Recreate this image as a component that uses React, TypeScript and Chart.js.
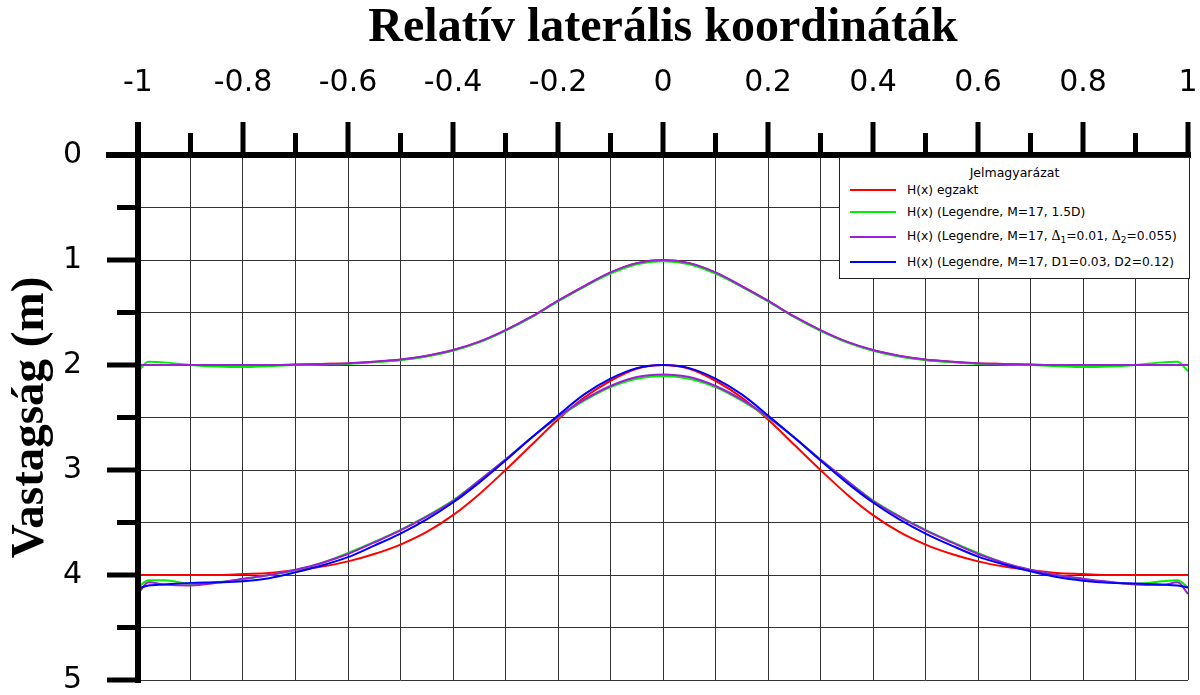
import React, { useEffect, useRef } from 'react';
import { Chart, registerables } from 'chart.js';

Chart.register(...registerables);

// Relative lateral coordinate (x) of each sample
const XS = [
  -1, -0.98, -0.95, -0.9, -0.85, -0.8, -0.75, -0.7, -0.65, -0.6, -0.55, -0.5, -0.45, -0.4, -0.35, -0.3, -0.25, -0.2, -0.15, -0.1, -0.05,
  0,
  0.05, 0.1, 0.15, 0.2, 0.25, 0.3, 0.35, 0.4, 0.45, 0.5, 0.55, 0.6, 0.65, 0.7, 0.75, 0.8, 0.85, 0.9, 0.95, 0.98, 1,
];

// Upper interface (m)
const RED_UPPER = [
  2.0, 2.0, 2.0, 2.0, 2.0, 2.0, 2.0, 1.995, 1.99, 1.985, 1.97, 1.95, 1.915, 1.86, 1.78, 1.67, 1.54, 1.39, 1.25, 1.12, 1.03,
  1.0,
  1.03, 1.12, 1.25, 1.39, 1.54, 1.67, 1.78, 1.86, 1.915, 1.95, 1.97, 1.985, 1.99, 1.995, 2.0, 2.0, 2.0, 2.0, 2.0, 2.0, 2.0,
];
const GREEN_UPPER = [
  2.06, 1.97, 1.975, 2.0, 2.015, 2.02, 2.01, 2.0, 1.995, 1.99, 1.975, 1.955, 1.92, 1.865, 1.785, 1.675, 1.545, 1.395, 1.255, 1.13, 1.04,
  1.012,
  1.04, 1.13, 1.255, 1.395, 1.545, 1.675, 1.785, 1.865, 1.92, 1.955, 1.975, 1.99, 1.995, 2.0, 2.01, 2.02, 2.015, 2.0, 1.975, 1.97, 2.06,
];
const PURPLE_UPPER = [
  2.0, 2.0, 2.0, 2.0, 2.0, 2.0, 2.0, 1.997, 1.99, 1.983, 1.968, 1.948, 1.912, 1.858, 1.778, 1.668, 1.538, 1.388, 1.248, 1.118, 1.03,
  1.0,
  1.03, 1.118, 1.248, 1.388, 1.538, 1.668, 1.778, 1.858, 1.912, 1.948, 1.968, 1.983, 1.99, 1.997, 2.0, 2.0, 2.0, 2.0, 2.0, 2.0, 2.0,
];

// Lower interface (m)
const RED_LOWER = [
  4.0, 4.0, 4.0, 4.0, 4.0, 3.99, 3.98, 3.955, 3.92, 3.87, 3.8, 3.71, 3.59, 3.43, 3.23, 3.0, 2.76, 2.52, 2.31, 2.15, 2.035,
  2.0,
  2.035, 2.15, 2.31, 2.52, 2.76, 3.0, 3.23, 3.43, 3.59, 3.71, 3.8, 3.87, 3.92, 3.955, 3.98, 3.99, 4.0, 4.0, 4.0, 4.0, 4.0,
];
const GREEN_LOWER = [
  4.12, 4.05, 4.05, 4.085, 4.07, 4.04, 4.0, 3.955, 3.885, 3.79, 3.685, 3.57, 3.44, 3.29, 3.1, 2.9, 2.69, 2.5, 2.34, 2.21, 2.13,
  2.105,
  2.13, 2.21, 2.34, 2.5, 2.69, 2.9, 3.1, 3.29, 3.44, 3.57, 3.685, 3.79, 3.885, 3.955, 4.0, 4.04, 4.07, 4.085, 4.06, 4.05, 4.12,
];
const PURPLE_LOWER = [
  4.18, 4.07, 4.09, 4.1, 4.075, 4.035, 4.0, 3.95, 3.885, 3.8, 3.69, 3.575, 3.445, 3.295, 3.1, 2.9, 2.69, 2.495, 2.33, 2.2, 2.115,
  2.09,
  2.115, 2.2, 2.33, 2.495, 2.69, 2.9, 3.1, 3.295, 3.445, 3.575, 3.69, 3.8, 3.885, 3.95, 4.0, 4.035, 4.065, 4.09, 4.095, 4.07, 4.18,
];
const BLUE_LOWER = [
  4.13, 4.1, 4.09, 4.075, 4.07, 4.06, 4.03, 3.975, 3.91, 3.83, 3.72, 3.605, 3.47, 3.31, 3.12, 2.91, 2.69, 2.48, 2.28, 2.13, 2.03,
  2.0,
  2.03, 2.13, 2.28, 2.48, 2.69, 2.91, 3.12, 3.31, 3.47, 3.605, 3.72, 3.825, 3.9, 3.965, 4.02, 4.055, 4.075, 4.08, 4.09, 4.1, 4.12,
];

const X_MIN = -1;
const X_MAX = 1;
const Y_MIN = 0;
const Y_MAX = 5;

const X_TITLE = 'Relatív laterális koordináták';
const Y_TITLE = 'Vastagság (m)';
const LEGEND_TITLE = 'Jelmagyarázat';

const RED = '#ff0000';
const GREEN = '#00ee00';
const PURPLE = '#9b1fd8';
const BLUE = '#0000ff';

const SANS = '"DejaVu Sans", "Liberation Sans", Arial, sans-serif';
const SERIF = '"Liberation Serif", "Times New Roman", Times, serif';

function series(values: number[]) {
  return XS.map((x, i) => ({ x, y: values[i] }));
}

const axesPlugin = {
  id: 'thickAxes',
  afterDraw(chart: any) {
    const { ctx, scales } = chart;
    const xs = scales.x;
    const ys = scales.y;
    const x0 = xs.getPixelForValue(X_MIN);
    const x1 = xs.getPixelForValue(X_MAX);
    const y0 = ys.getPixelForValue(Y_MIN);
    const y1 = ys.getPixelForValue(Y_MAX);
    ctx.save();
    ctx.fillStyle = '#000';
    // top axis line
    ctx.fillRect(x0 - 32, y0 - 3, x1 + 3 - (x0 - 32), 6);
    // left axis line
    ctx.fillRect(x0 - 3, y0 - 33, 6, y1 + 3 - (y0 - 33));
    // x ticks
    xs.ticks.forEach((t: any) => {
      const px = xs.getPixelForValue(t.value);
      const major = Math.round(t.value * 10) % 2 === 0;
      const len = major ? 33 : 22;
      ctx.fillRect(px - 2.5, y0 - len, 5, len);
    });
    // y ticks
    ys.ticks.forEach((t: any) => {
      const py = ys.getPixelForValue(t.value);
      const major = Math.round(t.value * 2) % 2 === 0;
      const len = major ? 31 : 21;
      ctx.fillRect(x0 - len, py - 2.5, len, 5);
    });
    ctx.restore();
  },
};

export default function App() {
  const canvasRef = useRef<HTMLCanvasElement | null>(null);

  useEffect(() => {
    const canvas = canvasRef.current;
    if (!canvas) return;
    const line = (label: string, values: number[], color: string, order: number) => ({
      label,
      data: series(values),
      borderColor: color,
      backgroundColor: color,
      borderWidth: 2,
      pointRadius: 0,
      fill: false,
      cubicInterpolationMode: 'monotone' as const,
      order,
    });
    const chart = new Chart(canvas, {
      type: 'line',
      data: {
        datasets: [
          line('H(x) egzakt (felső)', RED_UPPER, RED, 7),
          line('H(x) egzakt (alsó)', RED_LOWER, RED, 6),
          line('H(x) (Legendre, M=17, 1.5D) (felső)', GREEN_UPPER, GREEN, 5),
          line('H(x) (Legendre, M=17, 1.5D) (alsó)', GREEN_LOWER, GREEN, 4),
          line('H(x) (Legendre, M=17, Δ1=0.01, Δ2=0.055) (felső)', PURPLE_UPPER, PURPLE, 3),
          line('H(x) (Legendre, M=17, Δ1=0.01, Δ2=0.055) (alsó)', PURPLE_LOWER, PURPLE, 2),
          line('H(x) (Legendre, M=17, D1=0.03, D2=0.12)', BLUE_LOWER, BLUE, 1),
        ],
      },
      options: {
        responsive: false,
        animation: false,
        layout: { padding: { left: 0, top: 0, right: 12, bottom: 15 } },
        plugins: {
          legend: { display: false },
          tooltip: { enabled: false },
          title: { display: false },
        },
        scales: {
          x: {
            type: 'linear',
            position: 'top',
            min: X_MIN,
            max: X_MAX,
            afterFit: (s: any) => {
              s.height = 155;
              s.paddingLeft = 0;
              s.paddingRight = 0;
            },
            border: { display: false },
            grid: { color: '#333', lineWidth: 1, drawTicks: false },
            ticks: {
              stepSize: 0.1,
              autoSkip: false,
              maxRotation: 0,
              minRotation: 0,
              padding: 54,
              color: '#000',
              font: { family: SANS, size: 30 },
              callback: (v: any) => {
                const r = Math.round(Number(v) * 10);
                return r % 2 === 0 ? String(r / 10) : '';
              },
            },
            title: {
              display: true,
              text: X_TITLE,
              color: '#000',
              font: { family: SERIF, size: 48, weight: 'bold' },
              padding: { top: 0, bottom: 0 },
            },
          },
          y: {
            type: 'linear',
            position: 'left',
            reverse: true,
            min: Y_MIN,
            max: Y_MAX,
            afterFit: (s: any) => {
              s.width = 138;
              s.paddingTop = 0;
              s.paddingBottom = 0;
            },
            border: { display: false },
            grid: { color: '#333', lineWidth: 1, drawTicks: false },
            ticks: {
              stepSize: 0.5,
              autoSkip: false,
              padding: 56,
              color: '#000',
              font: { family: SANS, size: 30 },
              callback: (v: any) => {
                const r = Math.round(Number(v) * 2);
                return r % 2 === 0 ? String(r / 2) : '';
              },
            },
            title: {
              display: true,
              text: Y_TITLE,
              color: '#000',
              font: { family: SERIF, size: 47, weight: 'bold' },
              padding: { top: 3, bottom: 0 },
            },
          },
        },
      } as any,
      plugins: [axesPlugin],
    });
    return () => chart.destroy();
  }, []);

  const rowText: React.CSSProperties = {
    position: 'absolute',
    left: 67,
    height: 16,
    lineHeight: '16px',
    fontSize: 12.3,
    whiteSpace: 'nowrap',
    color: '#000',
  };
  const sample = (color: string, top: number): React.CSSProperties => ({
    position: 'absolute',
    left: 10,
    top: top - 1,
    width: 46,
    height: 2,
    background: color,
  });
  const sub: React.CSSProperties = { fontSize: 9, verticalAlign: 'sub', lineHeight: 0 };
  const delta: React.CSSProperties = { fontFamily: SERIF, fontSize: 14 };

  return (
    <div style={{ position: 'absolute', left: 0, top: 0, width: 1200, height: 695, background: '#fff' }}>
      <canvas ref={canvasRef} width={1200} height={695} style={{ display: 'block' }} />
      <div
        style={{
          position: 'absolute',
          left: 839,
          top: 157,
          width: 351,
          height: 122,
          boxSizing: 'border-box',
          border: '1px solid #222',
          background: '#fff',
          fontFamily: SANS,
        }}
      >
        <div style={{ position: 'absolute', left: 0, right: 0, top: 8, textAlign: 'center', fontSize: 12.5, lineHeight: '14px' }}>
          {LEGEND_TITLE}
        </div>
        <div style={sample(RED, 32)} />
        <div style={{ ...rowText, top: 24 }}>H(x) egzakt</div>
        <div style={sample(GREEN, 54)} />
        <div style={{ ...rowText, top: 46 }}>H(x) (Legendre, M=17, 1.5D)</div>
        <div style={sample(PURPLE, 79)} />
        <div style={{ ...rowText, top: 70 }}>
          H(x) (Legendre, M=17, <span style={delta}>Δ</span><span style={sub}>1</span>=0.01, <span style={delta}>Δ</span><span style={sub}>2</span>=0.055)
        </div>
        <div style={sample(BLUE, 104)} />
        <div style={{ ...rowText, top: 96 }}>H(x) (Legendre, M=17, D1=0.03, D2=0.12)</div>
      </div>
    </div>
  );
}
